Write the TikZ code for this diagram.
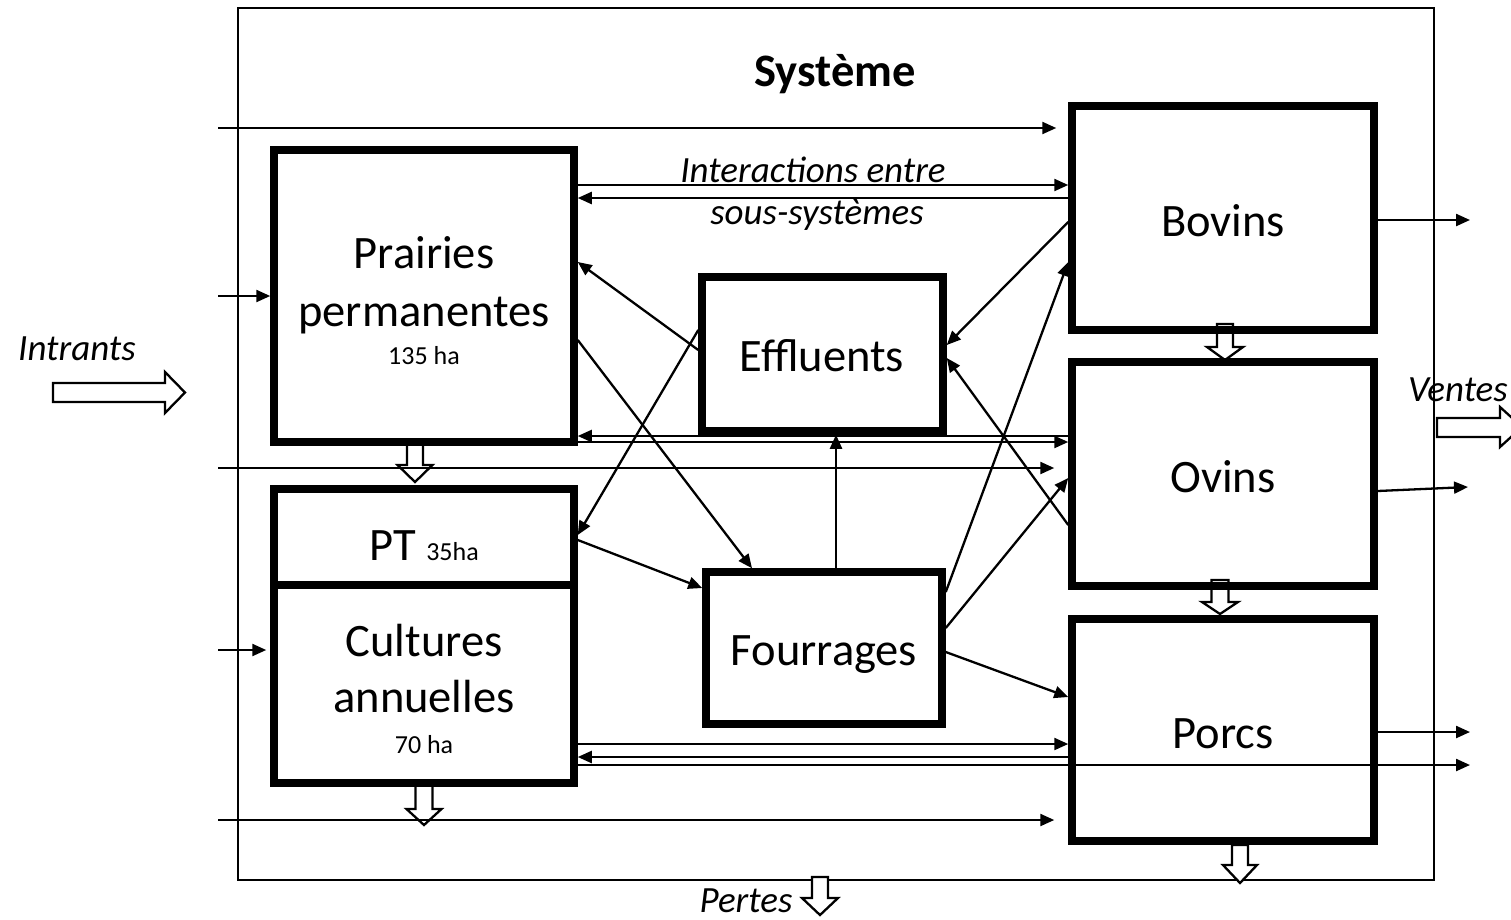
\documentclass[tikz,border=0pt]{standalone}
\usepackage{fontspec}
\setmainfont{Carlito}
\usetikzlibrary{arrows.meta}
\newcommand\myDown[6]{%
  \draw[blk] (#1-#5,#2) -- (#1+#5,#2) -- (#1+#5,#3) -- (#1+#6,#3) -- (#1,#4) -- (#1-#6,#3) -- (#1-#5,#3) -- cycle;}
\tikzset{
  box/.style={draw, line width=7.5pt, inner sep=0pt},
  arr/.style={line width=2.3pt, -{Triangle[length=14pt,width=12pt]}},
  blk/.style={draw, line width=2.3pt, fill=white, line join=miter},
  big/.style={font=\fontsize{46.5}{52}\selectfont, anchor=base},
  small/.style={font=\fontsize{26}{30}\selectfont, anchor=base},
  lab/.style={font=\fontsize{37}{40}\selectfont\itshape, anchor=base},
}
\begin{document}
\begin{tikzpicture}[x=1pt,y=-1pt]
\useasboundingbox (0,0) rectangle (1511,919);
% system frame
\node[draw, line width=2.3pt, minimum width=1196pt, minimum height=872pt, inner sep=0pt] (sys) at (836,444) {};
% block arrows
\myDown{415}{443}{465}{482}{8}{17.5}
\myDown{1225}{324}{347}{360}{8}{18}
\myDown{1220}{580}{602}{614}{8.5}{18}
\myDown{424}{783}{809}{825}{8.5}{17.5}
\myDown{1240}{845}{865}{883}{8}{17}
\myDown{820}{877}{898}{915}{8}{18}
\draw[blk] (53,383) -- (165,383) -- (165,372) -- (185,392.5) -- (165,413) -- (165,402) -- (53,402) -- cycle;
\draw[blk] (1437,418) -- (1500,418) -- (1500,407) -- (1522,427) -- (1500,447) -- (1500,437) -- (1437,437) -- cycle;
% boxes
\node[box, minimum width=300pt, minimum height=292pt] (prairies) at (424,296) {};
\node[box, minimum width=300pt, minimum height=96pt] (pt) at (424,537) {};
\node[box, minimum width=300pt, minimum height=198pt] (cultures) at (424,684) {};
\node[box, minimum width=241pt, minimum height=154pt] (effluents) at (822.5,354) {};
\node[box, minimum width=236pt, minimum height=152pt] (fourrages) at (824,648) {};
\node[box, minimum width=302pt, minimum height=224pt] (bovins) at (1223,218) {};
\node[box, minimum width=302pt, minimum height=224pt] (ovins) at (1223,474) {};
\node[box, minimum width=302pt, minimum height=222pt] (porcs) at (1223,730) {};
% texts
\node[font=\fontsize{46.5}{52}\selectfont\bfseries, anchor=base] (titre) at (835,86) {Système};
\node[big] (tpr1) at (424,268) {Prairies};
\node[big] (tpr2) at (424,326) {permanentes};
\node[small] (tpr3) at (424,364) {135 ha};
\node[big] (tpt) at (424,560) {PT {\fontsize{26}{30}\selectfont 35ha}};
\node[big] (tcu1) at (424,656) {Cultures};
\node[big] (tcu2) at (424,712) {annuelles};
\node[small] (tcu3) at (424,753) {70 ha};
\node[big] (tef) at (822,371) {Effluents};
\node[big] (tfo) at (824,665) {Fourrages};
\node[big] (tbo) at (1223,236) {Bovins};
\node[big] (tov) at (1223,492) {Ovins};
\node[big] (tpo) at (1223,748) {Porcs};
\node[lab] (tint1) at (813,182) {Interactions entre};
\node[lab] (tint2) at (817,224) {sous-systèmes};
\node[lab] (tin) at (77,360) {Intrants};
\node[lab] (tve) at (1458,401) {Ventes};
\node[lab] (tpe) at (746,912) {Pertes};
% free ends
\coordinate (i1) at (218,128);
\coordinate (i2) at (218,296);
\coordinate (i3) at (218,468);
\coordinate (i4) at (218,650);
\coordinate (i5) at (218,820);
\coordinate (o1) at (1470,220);
\coordinate (o2) at (1468,487);
\coordinate (o3) at (1470,732);
\coordinate (o4) at (1470,765);
% inputs
\draw[arr, shorten >=12pt] (i1) -- (bovins.west |- i1);
\draw[arr] (i2) -- (prairies.west |- i2);
\draw[arr, shorten >=14pt] (i3) -- (ovins.west |- i3);
\draw[arr, shorten >=4pt] (i4) -- (cultures.west |- i4);
\draw[arr, shorten >=14pt] (i5) -- (porcs.west |- i5);
% horizontal interactions
\draw[arr] (prairies.east |- 0,185) -- (bovins.west |- 0,185);
\draw[arr] (bovins.west |- 0,198) -- (prairies.east |- 0,198);
\draw[arr] (ovins.west |- 0,436) -- (prairies.east |- 0,436);
\draw[arr] (prairies.east |- 0,442) -- (ovins.west |- 0,442);
\draw[arr] (cultures.east |- 0,744) -- (porcs.west |- 0,744);
\draw[arr] (porcs.west |- 0,757) -- (cultures.east |- 0,757);
\draw[arr] (cultures.east |- o4) -- (o4);
% outputs
\draw[arr] (bovins.east |- o1) -- (o1);
\draw[arr] (ovins.east |- 0,491) -- (o2);
\draw[arr] (porcs.east |- o3) -- (o3);
% diagonals
\draw[arr] (effluents.west |- 0,350) -- (prairies.east |- 0,262);
\draw[arr] (effluents.west |- 0,330) -- (pt.east |- 0,535);
\draw[arr] (prairies.east |- 0,340) -- (752,0 |- fourrages.north);
\draw[arr] (pt.east |- 0,540) -- (fourrages.west |- 0,588);
\draw[arr] (836,0 |- fourrages.north) -- (836,0 |- effluents.south);
\draw[arr] (bovins.west |- 0,222) -- (effluents.east |- 0,345);
\draw[arr] (ovins.west |- 0,525) -- (effluents.east |- 0,358);
\draw[arr] (fourrages.east |- 0,592) -- (bovins.west |- 0,262);
\draw[arr] (fourrages.east |- 0,628) -- (ovins.west |- 0,478);
\draw[arr] (fourrages.east |- 0,652) -- (porcs.west |- 0,697);
\end{tikzpicture}
\end{document}
